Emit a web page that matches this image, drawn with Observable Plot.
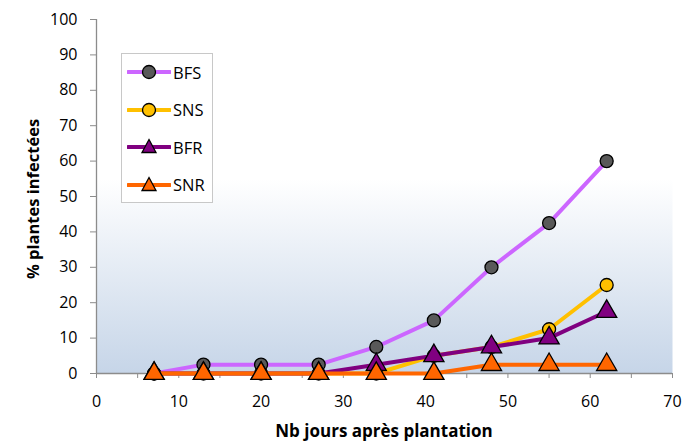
<!DOCTYPE html>
<html><head><meta charset="utf-8">
<script src="https://cdn.jsdelivr.net/npm/d3@7"></script>
<script src="https://cdn.jsdelivr.net/npm/@observablehq/plot@0.6"></script>
<style>
body{margin:0;background:#fff;font-family:"Open Sans",sans-serif}
#wrap{position:relative;width:684px;height:441px}
#legend{position:absolute;left:121px;top:53px;width:92px;height:150px;border:1.5px solid #c8c8c8;background:#fff;box-sizing:border-box}
.item{position:absolute;left:5px;height:20px;display:flex;align-items:center;font-size:16.5px;color:#000}
.item svg{margin-right:2px}
</style></head><body>
<div id="wrap"><div id="legend"></div></div>
<script>
const days = [7, 13, 20, 27, 34, 41, 48, 55, 62];
const seriesNames = ["BFS", "SNS", "BFR", "SNR"];
const BFS = [0, 2.5, 2.5, 2.5, 7.5, 15, 30, 42.5, 60];
const SNS = [0, 0, 0, 0, 0, 5, 7.5, 12.5, 25];
const BFR = [0, 0, 0, 0, 2.5, 5, 7.5, 10, 17.5];
const SNR = [0, 0, 0, 0, 0, 0, 2.5, 2.5, 2.5];
const xTicks = [0, 10, 20, 30, 40, 50, 60, 70];
const yTicks = [0, 10, 20, 30, 40, 50, 60, 70, 80, 90, 100];

const styles = {
  BFS: {line: "#cc66ff", fill: "#595959", symbol: "circle", r: 6.5},
  SNS: {line: "#ffc000", fill: "#ffc000", symbol: "circle", r: 6.5},
  BFR: {line: "#800080", fill: "#800080", symbol: "triangle", r: 7.5},
  SNR: {line: "#ff6600", fill: "#ff6600", symbol: "triangle", r: 7.5}
};
const values = {BFS, SNS, BFR, SNR};

const marks = [
  Plot.frame({fill: "url(#bg)", stroke: null}),
  Plot.ruleX([0], {stroke: "#8c8c8c", strokeWidth: 1.3}),
  Plot.ruleY([0], {stroke: "#8c8c8c", strokeWidth: 1.3}),
  Plot.axisY({ticks: yTicks, tickSize: 6, tickPadding: 13, stroke: "#8c8c8c", fontSize: 16, label: null, fill: "#000"}),
  Plot.axisX({ticks: d3.range(0, 71, 5), tickFormat: () => "", tickSize: 5, stroke: "#8c8c8c", label: null}),
  Plot.axisX({ticks: xTicks, tickSize: 0, tickPadding: 22, fontSize: 16, label: null, fill: "#000"})
];
for (const name of seriesNames) {
  const s = styles[name];
  const data = days.map((d, i) => ({day: d, v: values[name][i]}));
  marks.push(Plot.line(data, {x: "day", y: "v", stroke: s.line, strokeWidth: 4}));
  marks.push(Plot.dot(data, {x: "day", y: "v", symbol: s.symbol, r: s.r, fill: s.fill, stroke: "#000", strokeWidth: 1.3}));
}

const chart = Plot.plot({
  width: 684, height: 441,
  marginLeft: 96, marginRight: 12, marginTop: 19, marginBottom: 68,
  style: {fontFamily: "'Open Sans', sans-serif", background: "transparent"},
  x: {domain: [0, 70]},
  y: {domain: [0, 100]},
  marks
});
const svg = d3.select(chart);
const defs = svg.insert("defs", ":first-child");
const g = defs.append("linearGradient").attr("id", "bg").attr("x1", 0).attr("y1", 0).attr("x2", 0).attr("y2", 1);
g.append("stop").attr("offset", "0.45").attr("stop-color", "#ffffff");
g.append("stop").attr("offset", "1").attr("stop-color", "#c6d5e8");
svg.append("text").attr("x", 384).attr("y", 437).attr("text-anchor", "middle")
  .attr("font-weight", "bold").attr("font-size", 17).attr("fill", "#000").text("Nb jours après plantation");
svg.append("text").attr("transform", "translate(39,199) rotate(-90)").attr("text-anchor", "middle")
  .attr("font-weight", "bold").attr("font-size", 16.5).attr("fill", "#000").text("% plantes infectées");
const wrap = document.getElementById("wrap");
wrap.insertBefore(chart, wrap.firstChild);

const legend = document.getElementById("legend");
seriesNames.forEach((name, i) => {
  const s = styles[name];
  const div = document.createElement("div");
  div.className = "item";
  div.style.top = (8 + i * 37.5) + "px";
  const sym = s.symbol === "circle"
    ? `<circle cx="22" cy="10" r="6.5" fill="${s.fill}" stroke="#000" stroke-width="1.3"/>`
    : `<path d="M22,2.5 L29,15.5 L15,15.5 Z" fill="${s.fill}" stroke="#000" stroke-width="1.3"/>`;
  div.innerHTML = `<svg width="44" height="20"><line x1="1" x2="43" y1="10" y2="10" stroke="${s.line}" stroke-width="4" stroke-linecap="round"/>${sym}</svg><span>${name}</span>`;
  legend.appendChild(div);
});
</script>
</body></html>
